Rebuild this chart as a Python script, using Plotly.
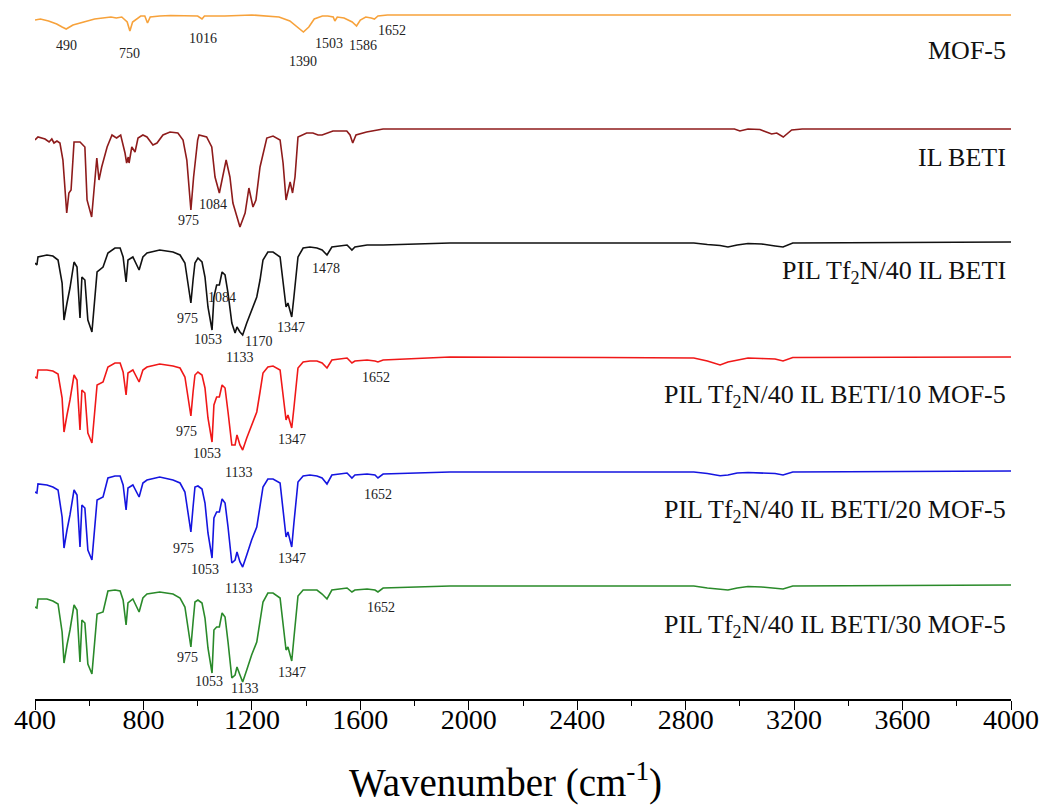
import plotly.graph_objects as go

# ---------------- data ----------------
# Stacked FTIR spectra; vertical values are stacked offset units (larger = lower on the plot)
mof_wn = [400, 420, 450, 480, 500, 515, 540, 580, 620, 680, 700, 720, 740, 750, 760, 790, 805, 815, 825,
          860, 900, 1000, 1016, 1025, 1100, 1200, 1300, 1340, 1370, 1390, 1410, 1430, 1460, 1480, 1500,
          1506, 1515, 1540, 1570, 1586, 1600, 1620, 1640, 1652, 1665, 1700, 2500, 4000]
mof_val = [20, 19, 21, 24, 27, 29, 25, 22, 19, 17, 18, 17, 22, 31, 22, 16, 16, 23, 17,
           16, 15.5, 16, 19, 16, 16, 15, 17, 21, 28, 32, 27, 19, 16, 16, 17,
           21, 17, 18, 22, 26, 20, 17, 18, 19, 16, 15, 15, 15]

il_wn = [400, 411, 437, 452, 462, 470, 481, 492, 503, 517, 525, 533, 544, 566, 584, 592, 609, 621, 628,
         636, 646, 666, 684, 695, 701, 716, 732, 738, 744, 747, 757, 769, 780, 798, 813, 835, 850, 872,
         898, 927, 946, 960, 975, 985, 991, 1000, 1005, 1033, 1052, 1064, 1080, 1092, 1105, 1119, 1130,
         1156, 1175, 1189, 1204, 1215, 1230, 1255, 1278, 1304, 1315, 1326, 1333, 1341, 1350, 1359, 1370,
         1402, 1425, 1444, 1459, 1481, 1499, 1550, 1562, 1572, 1584, 1623, 1684, 1931, 2500, 2980, 3000,
         3030, 3074, 3117, 3136, 3160, 3191, 3230, 4000]
il_val = [140, 137, 139, 142, 139, 143, 141, 143, 160, 213, 193, 190, 142, 142, 147, 200, 217, 180, 158,
          180, 167, 147, 135, 137, 138, 135, 153, 163, 157, 163, 147, 152, 138, 135, 137, 145, 143, 135,
          132, 133, 140, 160, 210, 177, 160, 140, 135, 137, 147, 177, 193, 177, 160, 177, 203,
          227, 213, 188, 207, 200, 167, 138, 136, 140, 163, 200, 190, 182, 193, 177, 137,
          133, 133, 135, 135, 133, 131, 131, 135, 143, 135, 132, 129, 129, 129, 129, 131,
          129, 129.5, 134, 133, 137, 130, 129, 129]

pil_wn = [400, 407, 411, 444, 466, 485, 500, 507, 518, 529, 544, 555, 566, 573, 584, 595, 610, 621, 629,
          651, 669, 695, 714, 725, 736, 743, 761, 784, 798, 813, 860, 909, 935, 953, 964, 975, 983, 990,
          1001, 1016, 1027, 1038, 1053, 1060, 1070, 1080, 1090, 1101, 1112, 1126, 1138, 1145, 1156, 1166,
          1181, 1199, 1218, 1230, 1241, 1259, 1278, 1304, 1315, 1326, 1333, 1347, 1355, 1370, 1389, 1414,
          1440, 1459, 1477, 1495, 1551, 1569, 1580, 1625, 1654, 1665, 1684, 1931, 2500, 2830, 2880, 2927,
          2956, 2990, 3030, 3080, 3130, 3159, 3195, 4000]
pil40_val = [263, 265, 257, 255, 256, 260, 283, 320, 303, 288, 262, 267, 318, 277, 280, 320, 332, 297, 272,
             267, 253, 248, 248, 257, 282, 260, 257, 270, 257, 253, 250, 252, 255, 263, 283, 303, 280, 263,
             258, 262, 277, 307, 330, 297, 285, 285, 272, 275, 293, 323, 333, 327, 332, 335,
             323, 310, 297, 280, 260, 252, 252, 257, 280, 307, 303, 317, 297, 257, 248, 247,
             248, 250, 255, 247, 245, 250, 247, 245, 245, 245, 245, 243, 243, 243, 244.5, 245.5,
             247, 245, 243.5, 244, 246, 247, 243, 242]
mof10_val = [377, 378, 370, 370, 371, 374, 398, 432, 415, 400, 375, 380, 430, 390, 393, 433, 443, 412, 385,
             382, 367, 363, 363, 372, 395, 373, 370, 382, 370, 367, 364, 366, 368, 377, 395, 416, 392, 375,
             372, 375, 388, 418, 442, 405, 397, 397, 385, 388, 412, 445, 445, 435, 445, 450,
             438, 425, 412, 392, 373, 367, 366, 370, 395, 420, 415, 428, 408, 368, 362, 361,
             361, 363, 368, 360, 358, 363, 361, 360, 361, 362, 360, 357, 357.5, 358, 361, 365,
             362, 360, 358, 358.5, 359, 361, 357.5, 357]
mof20_val = [492, 493, 484, 485, 487, 490, 517, 548, 530, 515, 490, 495, 547, 505, 508, 550, 560, 527, 500,
             497, 478, 476, 476, 485, 510, 488, 485, 497, 483, 480, 477, 480, 483, 492, 510, 532, 507, 487,
             486, 489, 503, 533, 558, 518, 512, 512, 499, 503, 527, 563, 560, 552, 562, 567,
             555, 540, 527, 507, 487, 479, 479, 483, 510, 537, 532, 547, 523, 482, 476, 475,
             476, 478, 484, 475, 473, 478, 475, 474, 475, 478, 474, 472, 472, 472, 473.5, 475.7,
             475, 473, 472.5, 473, 473.5, 475, 472, 471]
mof30_val = [607, 608, 599, 599, 601, 604, 632, 663, 645, 630, 605, 610, 662, 620, 623, 664, 674, 642, 614,
             612, 591, 590, 591, 600, 625, 603, 599, 612, 598, 594, 592, 594, 598, 607, 625, 647, 622, 602,
             600, 603, 618, 648, 673, 630, 627, 627, 613, 617, 642, 678, 675, 667, 675, 682,
             670, 655, 642, 622, 602, 593, 593, 598, 625, 650, 647, 661, 638, 596, 590, 590,
             590, 594, 599, 590, 588, 592, 590, 589, 590, 592, 588, 586, 586, 586, 588, 589.5,
             590, 588, 586.5, 587, 588, 589, 586, 585]

series_names = ["MOF-5", "IL BETI", "PIL Tf<sub>2</sub>N/40 IL BETI",
                "PIL Tf<sub>2</sub>N/40 IL BETI/10 MOF-5", "PIL Tf<sub>2</sub>N/40 IL BETI/20 MOF-5",
                "PIL Tf<sub>2</sub>N/40 IL BETI/30 MOF-5"]
x_title = "Wavenumber (cm<sup>-1</sup>)"

# peak labels: (text, wavenumber, vertical position)
peak_labels = [
    ("490", 518, 45), ("750", 750, 53), ("1016", 1020, 38), ("1390", 1389, 61), ("1503", 1484, 43),
    ("1586", 1610, 45), ("1652", 1717, 30),
    ("975", 968, 220), ("1084", 1057, 204),
    ("975", 961, 318), ("1084", 1090, 297), ("1053", 1038, 339), ("1133", 1156, 357), ("1170", 1226, 341),
    ("1347", 1344, 327), ("1478", 1473, 268),
    ("975", 957, 431), ("1053", 1034, 453), ("1133", 1152, 472), ("1347", 1348, 439), ("1652", 1658, 377),
    ("975", 946, 548), ("1053", 1027, 569), ("1133", 1152, 588), ("1347", 1348, 558), ("1652", 1665, 494),
    ("975", 961, 657), ("1053", 1042, 681), ("1133", 1171, 688), ("1347", 1348, 672), ("1652", 1676, 607),
]
name_label_y = [50, 157, 272, 396, 511, 626]

# ---------------- styles ----------------
colors = ["#F7A23B", "#8E1B1B", "#111111", "#F01818", "#1515E0", "#2A8A2A"]
FONT = "Liberation Serif, Times New Roman, serif"

traces = [(mof_wn, mof_val), (il_wn, il_val), (pil_wn, pil40_val),
          (pil_wn, mof10_val), (pil_wn, mof20_val), (pil_wn, mof30_val)]

fig = go.Figure()
for (xs, ys), c, n in zip(traces, colors, series_names):
    fig.add_trace(go.Scatter(x=xs, y=ys, mode="lines", name=n,
                             line=dict(color=c, width=1.6, shape="linear"),
                             showlegend=False))

for txt, xw, yv in peak_labels:
    fig.add_annotation(x=xw, y=yv, text=txt, showarrow=False, xref="x", yref="y",
                       font=dict(family=FONT, size=14, color="#222222"),
                       xanchor="center", yanchor="middle")

for n, yv in zip(series_names, name_label_y):
    fig.add_annotation(x=3988, y=yv, text=n, showarrow=False, xref="x", yref="y",
                       font=dict(family=FONT, size=26, color="#111111"),
                       xanchor="right", yanchor="middle")

# axis title, placed as in the reference (slightly left of centre)
fig.add_annotation(x=0.482, y=-0.116, xref="paper", yref="paper", text=x_title, showarrow=False,
                   font=dict(family=FONT, size=39, color="black"), xanchor="center", yanchor="middle")

fig.update_layout(
    width=1044, height=807,
    margin=dict(l=35, r=33, t=0, b=108),
    paper_bgcolor="white", plot_bgcolor="white",
    font=dict(family=FONT, color="black"),
    xaxis=dict(range=[400, 4000], tickmode="linear", tick0=400, dtick=400,
               showline=True, linecolor="black", linewidth=1.6, mirror=False,
               ticks="outside", ticklen=9, tickwidth=1.4, tickcolor="black",
               minor=dict(ticks="outside", ticklen=5, tickwidth=1.2, dtick=200, tick0=400, tickcolor="black"),
               showgrid=False, zeroline=False, ticklabelstandoff=-14,
               tickfont=dict(family=FONT, size=28, color="black")),
    yaxis=dict(range=[699, 0], visible=False, showgrid=False, zeroline=False),
)

fig.write_html("out.html")
